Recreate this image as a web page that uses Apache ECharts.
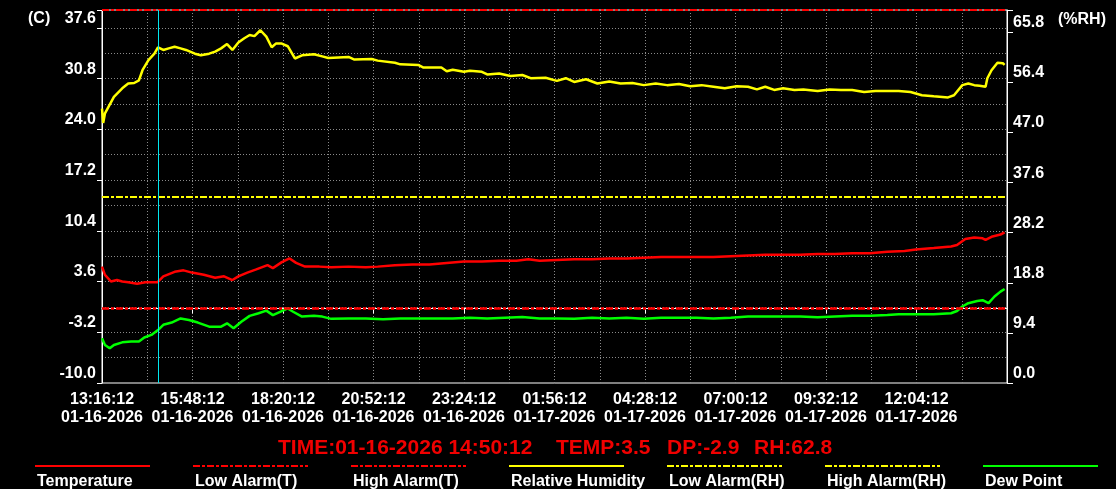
<!DOCTYPE html>
<html>
<head>
<meta charset="utf-8">
<script src="https://cdn.jsdelivr.net/npm/echarts@6/dist/echarts.min.js"></script>
<style>
html,body{margin:0;padding:0;background:#000;}
#c{width:1116px;height:489px;}
</style>
</head>
<body>
<div id="c"></div>
<script>
// ---- tick labels ----
const xTickTimes = ['13:16:12','15:48:12','18:20:12','20:52:12','23:24:12','01:56:12','04:28:12','07:00:12','09:32:12','12:04:12'];
const xTickDates = ['01-16-2026','01-16-2026','01-16-2026','01-16-2026','01-16-2026','01-17-2026','01-17-2026','01-17-2026','01-17-2026','01-17-2026'];
const xStepMin = 152;          // minutes between labelled ticks
const xSpanMin = 1520;         // minutes covered by the x axis
const tempMin = -10, tempMax = 40, tempStep = 6.8;
const rhMin = 0, rhMax = 70, rhStep = 9.4;

// ---- alarms ----
const lowAlarmT = 0, highAlarmT = 40, lowAlarmRH = 35;

// ---- cursor readout ----
const cursorMin = 94;
const cursorTime = '01-16-2026 14:50:12';
const cursorTemp = 3.5, cursorDp = -2.9, cursorRh = 62.8;

// ---- series (minutes since 01-16-2026 13:16:12) ----
const tempTime = [0,5,15,25,34,44,59,73,93,103,122,137,151,171,190,205,219,229,244,258,278,287,302,315,326,341,365,385,414,443,463,492,521,550,579,608,638,667,696,716,735,764,793,823,852,881,910,939,969,998,1027,1056,1085,1114,1144,1173,1202,1231,1260,1290,1319,1348,1367,1397,1426,1436,1450,1465,1479,1484,1494,1509,1516];
const tempValues = [5.6,4.5,3.6,3.8,3.6,3.5,3.3,3.5,3.5,4.3,4.9,5.1,4.8,4.5,4.1,4.3,3.8,4.3,4.8,5.2,5.8,5.4,6.2,6.7,6.1,5.6,5.6,5.5,5.6,5.5,5.6,5.8,5.9,5.9,6.1,6.3,6.3,6.4,6.4,6.6,6.4,6.5,6.6,6.6,6.7,6.7,6.8,6.9,6.9,6.9,6.9,7.0,7.1,7.2,7.2,7.2,7.3,7.3,7.4,7.4,7.6,7.7,7.9,8.1,8.3,8.5,9.3,9.5,9.4,9.2,9.6,9.9,10.2];

const dewTime = [0,5,13,20,34,49,62,71,83,94,103,117,132,146,161,180,200,210,221,234,248,263,276,287,302,312,321,336,356,370,385,414,443,472,501,531,560,589,618,647,677,706,735,764,793,823,852,881,910,939,969,998,1027,1056,1085,1114,1144,1173,1202,1231,1260,1290,1319,1338,1367,1397,1426,1436,1445,1455,1470,1479,1489,1499,1509,1516];
const dewValues = [-4.0,-4.9,-5.35,-4.9,-4.55,-4.45,-4.45,-3.9,-3.55,-2.9,-2.2,-1.9,-1.35,-1.55,-1.9,-2.45,-2.45,-2.0,-2.65,-1.8,-1.0,-0.65,-0.3,-0.9,-0.35,0.0,-0.45,-1.1,-1.0,-1.1,-1.4,-1.35,-1.35,-1.45,-1.35,-1.35,-1.35,-1.35,-1.25,-1.35,-1.25,-1.15,-1.35,-1.35,-1.4,-1.25,-1.35,-1.25,-1.4,-1.25,-1.25,-1.25,-1.35,-1.25,-1.1,-1.1,-1.1,-1.1,-1.2,-1.1,-1.0,-1.0,-0.9,-0.8,-0.8,-0.8,-0.65,-0.35,0.25,0.7,1.0,1.1,0.7,1.6,2.25,2.6];

const rhTime = [0,2,5,20,34,44,54,62,68,78,88,94,103,112,122,132,141,156,166,180,190,200,210,219,229,239,248,256,266,276,285,292,302,312,324,336,356,370,380,414,424,453,463,492,501,531,540,570,579,589,608,618,638,647,667,686,706,720,745,764,779,793,813,832,852,871,891,910,930,949,969,988,1007,1027,1046,1066,1085,1100,1114,1129,1144,1163,1178,1202,1222,1241,1260,1280,1299,1319,1338,1358,1377,1397,1421,1431,1445,1455,1465,1474,1484,1487,1494,1504,1513,1516];
const rhValues = [51.5,48.8,50.6,53.7,55.3,56.2,56.3,56.8,58.7,60.6,61.8,63.0,62.5,62.8,63.1,62.8,62.5,61.8,61.5,61.8,62.2,62.8,63.6,62.5,63.9,64.7,65.3,65.1,66.2,65.0,63.0,63.7,63.7,63.2,60.9,61.5,61.7,61.3,61.0,61.2,60.7,60.8,60.5,60.1,59.8,59.7,59.2,59.2,58.5,58.8,58.4,58.6,58.4,57.9,58.1,57.6,57.8,57.2,57.3,56.7,57.2,56.5,57.0,56.2,56.6,56.2,56.3,55.9,56.2,55.9,56.1,55.7,55.9,55.6,55.3,55.7,55.6,55.1,55.6,55.0,55.3,55.0,55.1,54.8,55.1,55.0,55.0,54.6,54.8,54.8,54.8,54.6,54.0,53.8,53.6,54.0,55.9,56.2,55.9,55.8,55.6,57.2,58.7,60.1,60.0,59.7];

const pair = (t, v) => t.map((m, i) => [m, v[i]]);

const FONT = 'Liberation Sans';
const RED = '#ff0000', YEL = '#ffff00', GRN = '#00ff00', CYAN = '#00e8f0';
const GRIDC = '#8a8a8a';
const alarmDash = [7, 2, 3, 2];

const chart = echarts.init(document.getElementById('c'), null, {renderer: 'canvas'});

const labelStyle = {color: '#fff', fontFamily: FONT, fontWeight: 'bold', fontSize: 16};

// legend built as graphics (line sample above label)
const legendItems = [
  {name: 'Temperature', color: RED, dash: null},
  {name: 'Low Alarm(T)', color: RED, dash: alarmDash},
  {name: 'High Alarm(T)', color: RED, dash: alarmDash},
  {name: 'Relative Humidity', color: YEL, dash: null},
  {name: 'Low Alarm(RH)', color: YEL, dash: alarmDash},
  {name: 'High Alarm(RH)', color: YEL, dash: alarmDash},
  {name: 'Dew Point', color: GRN, dash: null}
];
const legendGraphics = [];
legendItems.forEach((it, i) => {
  const x0 = 35 + i * 158;
  legendGraphics.push({
    type: 'line', silent: true,
    shape: {x1: x0, y1: 466, x2: x0 + 115, y2: 466},
    style: {stroke: it.color, lineWidth: 2, lineDash: it.dash || null}
  });
  legendGraphics.push({
    type: 'text', silent: true, x: x0 + 2, y: 482,
    style: {text: it.name, fill: '#fff', font: 'bold 16px "' + FONT + '"', textVerticalAlign: 'middle', textAlign: 'left'}
  });
});

const statusFont = 'bold 21px "' + FONT + '"';
const statusGraphics = [
  {type: 'text', silent: true, x: 278, y: 448, style: {text: 'TIME:' + cursorTime, fill: '#f00000', font: statusFont, textVerticalAlign: 'middle'}},
  {type: 'text', silent: true, x: 556, y: 448, style: {text: 'TEMP:' + cursorTemp.toFixed(1), fill: '#f00000', font: statusFont, textVerticalAlign: 'middle'}},
  {type: 'text', silent: true, x: 667, y: 448, style: {text: 'DP:' + cursorDp.toFixed(1), fill: '#f00000', font: statusFont, textVerticalAlign: 'middle'}},
  {type: 'text', silent: true, x: 754, y: 448, style: {text: 'RH:' + cursorRh.toFixed(1), fill: '#f00000', font: statusFont, textVerticalAlign: 'middle'}}
];

const unitGraphics = [
  {type: 'text', silent: true, x: 28, y: 19, style: {text: '(C)', fill: '#fff', font: 'bold 16px "' + FONT + '"', textVerticalAlign: 'middle'}},
  {type: 'text', silent: true, x: 1058, y: 20, style: {text: '(%RH)', fill: '#fff', font: 'bold 16px "' + FONT + '"', textVerticalAlign: 'middle'}}
];

// y labels sit ~10px above their tick: two-line label block centred on the tick
const raisedLabel = (txt) => txt + '\n\u00a0';

const option = {
  backgroundColor: '#000',
  animation: false,
  grid: {left: 102, right: 109, top: 10, bottom: 106, show: true, borderColor: '#fff', borderWidth: 1, backgroundColor: '#000'},
  xAxis: [{
    type: 'value', min: 0, max: xSpanMin, interval: xStepMin,
    axisLine: {show: true, lineStyle: {color: '#fff', width: 1}},
    axisTick: {show: true, length: 5, lineStyle: {color: '#fff'}},
    axisLabel: {
      ...labelStyle, lineHeight: 18, margin: 8,
      formatter: (v) => {
        const i = Math.round(v / xStepMin);
        if (i >= xTickTimes.length) return '';
        return xTickTimes[i] + '\n' + xTickDates[i];
      }
    },
    splitLine: {show: true, showMinLine: false, showMaxLine: false, lineStyle: {color: GRIDC, type: [1, 2], width: 1}},
    minorTick: {show: false, splitNumber: 2},
    minorSplitLine: {show: true, lineStyle: {color: GRIDC, type: [1, 2], width: 1}}
  }],
  yAxis: [{
    type: 'value', position: 'left', min: tempMin, max: tempMax, interval: tempStep,
    axisLine: {show: true, lineStyle: {color: '#fff', width: 1}},
    axisTick: {show: true, length: 5, lineStyle: {color: '#fff'}},
    axisLabel: {...labelStyle, margin: 6, lineHeight: 19,
      formatter: (v) => v > tempMax - 1 ? '' : raisedLabel(v.toFixed(1))},
    splitLine: {show: false}
  }, {
    type: 'value', position: 'left', min: tempMin, max: tempMax, interval: tempStep / 2,
    axisLine: {show: false}, axisTick: {show: false}, axisLabel: {show: false},
    splitLine: {show: true, showMinLine: false, showMaxLine: false, lineStyle: {color: GRIDC, type: [1, 2], width: 1}}
  }, {
    type: 'value', position: 'right', min: rhMin, max: rhMax, interval: rhStep,
    axisLine: {show: true, lineStyle: {color: '#fff', width: 1}},
    axisTick: {show: true, length: 6, lineStyle: {color: '#fff'}},
    axisLabel: {...labelStyle, margin: 6, lineHeight: 19,
      formatter: (v) => v > rhMax - 1 ? '' : raisedLabel(v.toFixed(1))},
    splitLine: {show: false}
  }],
  series: [{
    name: 'Relative Humidity', type: 'line', yAxisIndex: 2, showSymbol: false,
    data: pair(rhTime, rhValues),
    lineStyle: {color: YEL, width: 2.5}, itemStyle: {color: YEL},
    markLine: {silent: true, symbol: 'none', label: {show: false},
      data: [{yAxis: lowAlarmRH, lineStyle: {color: YEL, width: 2, type: alarmDash}}]}
  }, {
    name: 'Temperature', type: 'line', yAxisIndex: 0, showSymbol: false,
    data: pair(tempTime, tempValues),
    lineStyle: {color: RED, width: 2.5}, itemStyle: {color: RED},
    markLine: {silent: true, symbol: 'none', label: {show: false},
      data: [
        {yAxis: lowAlarmT, lineStyle: {color: RED, width: 2.5, type: alarmDash}},
        {yAxis: highAlarmT, lineStyle: {color: RED, width: 2, type: alarmDash}}
      ]}
  }, {
    name: 'Dew Point', type: 'line', yAxisIndex: 0, showSymbol: false,
    data: pair(dewTime, dewValues),
    lineStyle: {color: GRN, width: 2.5}, itemStyle: {color: GRN},
    markLine: {silent: true, symbol: 'none', label: {show: false},
      data: [{xAxis: cursorMin, lineStyle: {color: CYAN, width: 1, type: 'solid'}}]}
  }],
  graphic: [...unitGraphics, ...statusGraphics, ...legendGraphics]
};
chart.setOption(option);
</script>
</body>
</html>
